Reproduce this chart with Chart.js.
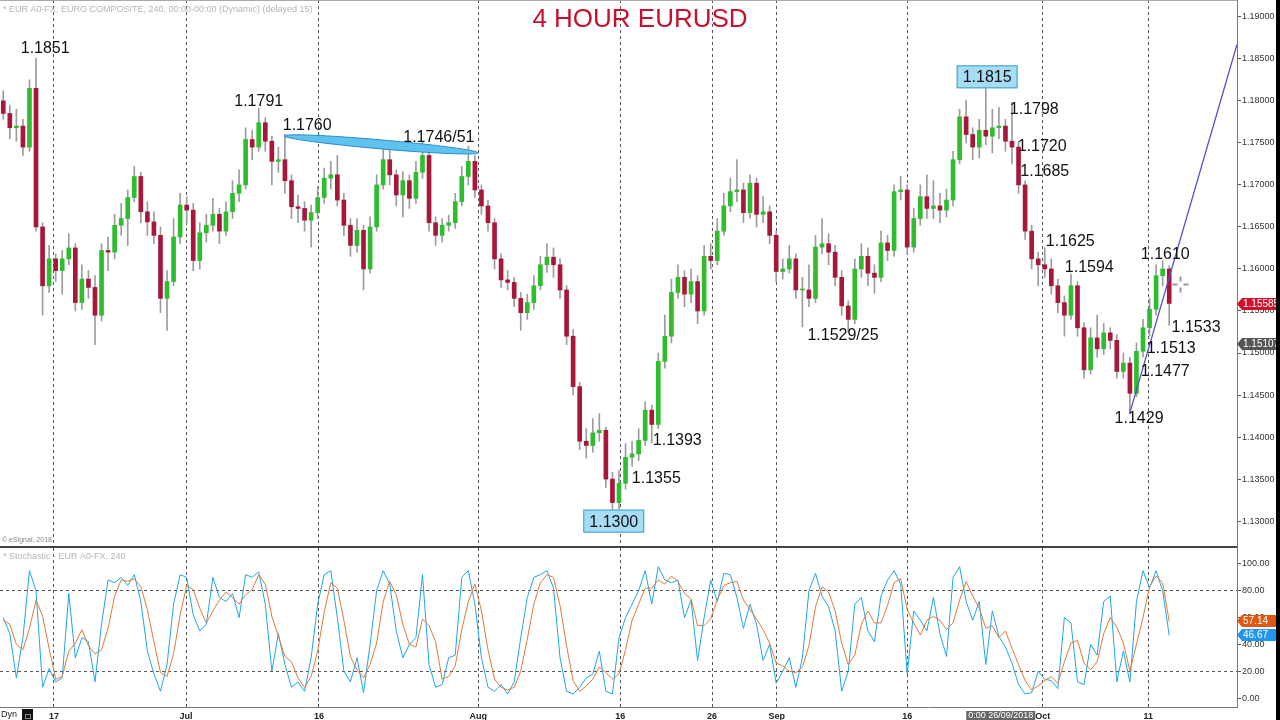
<!DOCTYPE html>
<html>
<head>
<meta charset="utf-8">
<script src="https://cdn.jsdelivr.net/npm/chart.js@4.4.0/dist/chart.umd.min.js"></script>
<style>
  body { margin: 0; background: #fff; width: 1280px; height: 720px; overflow: hidden; position: relative; }
  #priceChart { position: absolute; left: 0; top: 0; }
  #stochChart { position: absolute; left: 0; top: 548px; }
  #edge { position: absolute; right: 0; top: 0; width: 4px; height: 720px; background: #000; }
</style>
</head>
<body>
<canvas id="priceChart" width="1280" height="548"></canvas>
<canvas id="stochChart" width="1280" height="172"></canvas>
<div id="edge"></div>
<script>
// 4h EURUSD, sampled as two candles per trading day (index 0 = 12 Jun)
const opens = [1.1800,1.1785,1.1768,1.1770,1.1745,1.1815,1.1650,1.1580,1.1612,1.1598,
  1.1612,1.1625,1.1560,1.1588,1.1578,1.1545,1.1622,1.1620,1.1652,1.1660,
  1.1685,1.1710,1.1668,1.1656,1.1640,1.1565,1.1585,1.1638,1.1676,1.1670,
  1.1610,1.1643,1.1652,1.1665,1.1645,1.1668,1.1690,1.1700,1.1754,1.1745,
  1.1774,1.1752,1.1728,1.1730,1.1705,1.1674,1.1672,1.1658,1.1667,1.1685,
  1.1708,1.1712,1.1682,1.1652,1.1628,1.1646,1.1600,1.1650,1.1700,1.1730,
  1.1712,1.1688,1.1705,1.1684,1.1715,1.1735,1.1655,1.1640,1.1652,1.1655,
  1.1680,1.1710,1.1728,1.1694,1.1675,1.1655,1.1612,1.1587,1.1584,1.1565,
  1.1548,1.1560,1.1580,1.1605,1.1614,1.1605,1.1575,1.1520,1.1460,1.1395,
  1.1390,1.1405,1.1408,1.1350,1.1322,1.1345,1.1376,1.1380,1.1396,1.1432,
  1.1415,1.1490,1.1520,1.1572,1.1590,1.1570,1.1585,1.1550,1.1615,1.1610,
  1.1645,1.1675,1.1692,1.1694,1.1667,1.1702,1.1665,1.1668,1.1640,1.1597,
  1.1600,1.1612,1.1575,1.1575,1.1565,1.1626,1.1630,1.1620,1.1590,1.1556,
  1.1540,1.1600,1.1615,1.1595,1.1590,1.1631,1.1622,1.1692,1.1694,1.1626,
  1.1660,1.1686,1.1672,1.1675,1.1670,1.1682,1.1730,1.1781,1.1760,1.1745,
  1.1765,1.1758,1.1768,1.1770,1.1752,1.1745,1.1700,1.1645,1.1612,1.1605,
  1.1600,1.1580,1.1560,1.1545,1.1580,1.1530,1.1480,1.1518,1.1505,1.1524,
  1.1515,1.1478,1.1488,1.1452,1.1502,1.1530,1.1552,1.1592,1.1600];

const highs = [1.1812,1.1795,1.1790,1.1778,1.1825,1.1851,1.1655,1.1628,1.1618,1.1622,
  1.1642,1.1630,1.1605,1.1598,1.1592,1.1630,1.1638,1.1665,1.1678,1.1694,
  1.1722,1.1715,1.1680,1.1668,1.1650,1.1598,1.1660,1.1690,1.1686,1.1678,
  1.1655,1.1665,1.1684,1.1672,1.1680,1.1705,1.1718,1.1768,1.1765,1.1791,
  1.1780,1.1758,1.1745,1.1760,1.1712,1.1688,1.1680,1.1676,1.1698,1.1720,
  1.1728,1.1735,1.1690,1.1660,1.1660,1.1652,1.1662,1.1712,1.1750,1.1750,
  1.1718,1.1716,1.1712,1.1728,1.1751,1.1740,1.1662,1.1660,1.1664,1.1690,
  1.1722,1.1746,1.1735,1.1700,1.1682,1.1660,1.1618,1.1598,1.1590,1.1572,
  1.1570,1.1592,1.1615,1.1630,1.1625,1.1612,1.1580,1.1528,1.1465,1.1410,
  1.1422,1.1428,1.1412,1.1358,1.1360,1.1392,1.1395,1.1410,1.1442,1.1438,
  1.1500,1.1545,1.1588,1.1605,1.1598,1.1600,1.1592,1.1628,1.1630,1.1660,
  1.1690,1.1708,1.1730,1.1702,1.1712,1.1708,1.1686,1.1675,1.1645,1.1612,
  1.1628,1.1618,1.1590,1.1605,1.1640,1.1660,1.1642,1.1628,1.1598,1.1562,
  1.1612,1.1630,1.1625,1.1605,1.1645,1.1640,1.1700,1.1710,1.1700,1.1672,
  1.1700,1.1712,1.1705,1.1690,1.1695,1.1740,1.1790,1.1801,1.1768,1.1778,
  1.1815,1.1790,1.1792,1.1778,1.1798,1.1752,1.1705,1.1652,1.1620,1.1625,
  1.1612,1.1588,1.1568,1.1594,1.1585,1.1536,1.1530,1.1545,1.1535,1.1530,
  1.1522,1.1500,1.1495,1.1512,1.1540,1.1565,1.1605,1.1610,1.1604];

const lows = [1.1778,1.1755,1.1752,1.1735,1.1740,1.1645,1.1545,1.1572,1.1585,1.1570,
  1.1605,1.1550,1.1552,1.1565,1.1510,1.1538,1.1598,1.1612,1.1640,1.1628,
  1.1680,1.1655,1.1640,1.1630,1.1548,1.1527,1.1580,1.1630,1.1655,1.1598,
  1.1600,1.1632,1.1645,1.1630,1.1640,1.1660,1.1680,1.1695,1.1730,1.1740,
  1.1740,1.1700,1.1715,1.1690,1.1660,1.1655,1.1645,1.1626,1.1660,1.1678,
  1.1695,1.1675,1.1640,1.1615,1.1620,1.1575,1.1595,1.1645,1.1695,1.1700,
  1.1675,1.1662,1.1672,1.1678,1.1708,1.1645,1.1628,1.1632,1.1645,1.1648,
  1.1675,1.1700,1.1685,1.1665,1.1645,1.1600,1.1578,1.1575,1.1555,1.1527,
  1.1540,1.1552,1.1575,1.1596,1.1590,1.1565,1.1510,1.1450,1.1385,1.1375,
  1.1382,1.1395,1.1340,1.1301,1.1310,1.1338,1.1365,1.1372,1.1390,1.1393,
  1.1410,1.1482,1.1512,1.1565,1.1555,1.1560,1.1535,1.1545,1.1600,1.1605,
  1.1640,1.1668,1.1680,1.1655,1.1660,1.1650,1.1655,1.1630,1.1585,1.1588,
  1.1595,1.1565,1.1531,1.1555,1.1560,1.1618,1.1605,1.1580,1.1545,1.1525,
  1.1535,1.1590,1.1580,1.1571,1.1585,1.1610,1.1615,1.1682,1.1618,1.1620,
  1.1652,1.1660,1.1660,1.1655,1.1662,1.1675,1.1725,1.1750,1.1730,1.1732,
  1.1748,1.1738,1.1755,1.1740,1.1725,1.1690,1.1635,1.1600,1.1580,1.1590,
  1.1570,1.1548,1.1520,1.1540,1.1520,1.1470,1.1475,1.1495,1.1498,1.1505,
  1.1470,1.1470,1.1429,1.1448,1.1495,1.1520,1.1545,1.1580,1.1533];

const closes = [1.1785,1.1768,1.1770,1.1745,1.1815,1.1650,1.1580,1.1612,1.1598,1.1612,
  1.1625,1.1560,1.1588,1.1578,1.1545,1.1622,1.1620,1.1652,1.1660,1.1685,
  1.1710,1.1668,1.1656,1.1640,1.1565,1.1585,1.1638,1.1676,1.1670,1.1610,
  1.1643,1.1652,1.1665,1.1645,1.1668,1.1690,1.1700,1.1754,1.1745,1.1774,
  1.1752,1.1728,1.1730,1.1705,1.1674,1.1672,1.1658,1.1667,1.1685,1.1708,
  1.1712,1.1682,1.1652,1.1628,1.1646,1.1600,1.1650,1.1700,1.1730,1.1712,
  1.1688,1.1705,1.1684,1.1715,1.1735,1.1655,1.1640,1.1652,1.1655,1.1680,
  1.1710,1.1728,1.1694,1.1675,1.1655,1.1612,1.1587,1.1584,1.1565,1.1548,
  1.1560,1.1580,1.1605,1.1614,1.1605,1.1575,1.1520,1.1460,1.1395,1.1390,
  1.1405,1.1408,1.1350,1.1322,1.1345,1.1376,1.1380,1.1396,1.1432,1.1415,
  1.1490,1.1520,1.1572,1.1590,1.1570,1.1585,1.1550,1.1615,1.1610,1.1645,
  1.1675,1.1692,1.1694,1.1667,1.1702,1.1665,1.1668,1.1640,1.1597,1.1600,
  1.1612,1.1575,1.1575,1.1565,1.1626,1.1630,1.1620,1.1590,1.1556,1.1540,
  1.1600,1.1615,1.1595,1.1590,1.1631,1.1622,1.1692,1.1694,1.1626,1.1660,
  1.1686,1.1672,1.1675,1.1670,1.1682,1.1730,1.1781,1.1760,1.1745,1.1765,
  1.1758,1.1768,1.1770,1.1752,1.1745,1.1700,1.1645,1.1612,1.1605,1.1600,
  1.1580,1.1560,1.1545,1.1580,1.1530,1.1480,1.1518,1.1505,1.1524,1.1515,
  1.1478,1.1488,1.1452,1.1502,1.1530,1.1552,1.1592,1.1600,1.1559];

// stochastic %K (blue) and %D (orange)
const stochK = [60,48,15,45,95,80,8,22,12,15,
  78,30,45,42,12,55,88,86,90,84,
  92,72,35,18,5,25,70,92,90,62,
  50,55,90,75,72,78,60,92,90,94,
  70,20,48,25,8,12,5,30,70,92,
  95,60,20,12,30,4,40,80,95,85,
  50,30,40,45,92,25,8,10,30,32,
  90,95,70,30,8,5,10,3,12,45,
  75,90,92,95,82,30,5,3,8,15,
  18,35,5,3,45,60,70,80,95,70,
  98,88,86,88,60,73,28,60,88,72,
  93,92,75,52,70,55,28,40,11,20,
  30,8,30,80,93,76,68,50,5,20,
  70,75,50,42,76,88,95,85,18,65,
  58,50,75,48,31,90,98,72,58,72,
  25,65,46,38,26,10,3,4,20,14,
  13,7,60,56,12,10,40,32,72,76,
  12,35,12,72,95,82,95,80,46.67];

const stochD = [58,55,40,36,52,73,61,37,14,16,
  35,41,51,39,33,36,52,76,88,87,
  89,83,66,42,19,16,33,62,84,81,
  67,56,65,73,79,75,70,77,81,92,
  85,61,46,31,27,15,8,16,35,64,
  86,82,58,31,21,15,25,41,72,87,
  77,55,40,38,59,54,42,14,16,24,
  51,72,85,65,36,14,8,6,8,20,
  44,70,86,92,90,69,39,13,5,9,
  14,23,19,14,18,36,58,70,82,82,
  88,85,91,87,78,74,54,54,59,73,
  84,86,87,73,66,59,51,41,26,24,
  20,19,23,39,68,83,79,65,41,25,
  32,55,65,56,56,69,86,89,66,56,
  47,58,61,58,51,56,73,87,76,67,
  52,54,45,50,37,25,13,6,9,13,
  16,11,27,41,43,26,21,27,48,60,
  53,41,20,40,60,83,91,86,57.14];

// date grid lines (in candle index units) and their labels
const tickPos = [7.74, 27.9, 48.2, 72.5, 94.2, 108.2, 118.1, 138.0, 158.7, 174.8];
const tickLabels = ['17', 'Jul', '16', 'Aug', '16', '26', 'Sep', '16', 'Oct', '11'];
const priceTicks = [1.13, 1.135, 1.14, 1.145, 1.15, 1.155, 1.16, 1.165, 1.17, 1.175, 1.18, 1.185, 1.19];
const stochTicks = [0, 20, 40, 60, 80, 100];
const stochLevels = [20, 80];

// hand-drawn marks: rising trendline and the "1.1760 - 1.1746/51" ellipse
const trendPts = [{ x: 172, y: 1.1429 }, { x: 188.35, y: 1.1867 }];
const channelEnds = [[42.9, 1.17583], [72.5, 1.17381]];

// price notes: text, candle index, price, boxed?
const notes = [
  ['1.1851', 6.4, 1.18631, false],
  ['1.1791', 39.0, 1.18000, false],
  ['1.1760', 46.4, 1.17714, false],
  ['1.1746/51', 66.5, 1.17571, false],
  ['1.1815', 150.2, 1.18286, true],
  ['1.1798', 157.4, 1.17905, false],
  ['1.1720', 158.6, 1.17464, false],
  ['1.1685', 159.0, 1.17167, false],
  ['1.1625', 162.9, 1.16333, false],
  ['1.1594', 165.8, 1.16024, false],
  ['1.1610', 177.4, 1.16179, false],
  ['1.1533', 182.1, 1.15310, false],
  ['1.1513', 178.3, 1.15060, false],
  ['1.1477', 177.4, 1.14786, false],
  ['1.1429', 173.4, 1.14226, false],
  ['1.1529/25', 128.2, 1.15214, false],
  ['1.1393', 102.9, 1.13964, false],
  ['1.1355', 99.7, 1.13512, false],
  ['1.1300', 93.2, 1.13000, true],
];

const lastPrice = 1.15585;
const cursorPrice = 1.15107;
const cursorIdx = 152.2;
const cursorMark = [179.65, 1.15821];

const xMin = -0.5;
const xMax = 188.35;
const FONT = '"Liberation Sans", Arial, sans-serif';
const UP = '#2dbd2d';
const DOWN = '#a8163a';

function xAxis(showLabels) {
  return {
    type: 'linear',
    min: xMin,
    max: xMax,
    offset: false,
    afterBuildTicks: (s) => { s.ticks = tickPos.map((v) => ({ value: v })); },
    afterFit: (s) => { s.height = showLabels ? 13 : 0; s.paddingLeft = 0; s.paddingRight = 0; },
    grid: { color: '#555', lineWidth: 1, drawTicks: false, offset: false },
    border: { display: showLabels, color: '#777', dash: [3, 3] },
    ticks: {
      display: showLabels,
      autoSkip: false,
      maxRotation: 0,
      padding: 4,
      color: '#222',
      font: { family: FONT, size: 9, weight: 'bold' },
      callback: (v, i) => tickLabels[i],
    },
  };
}

function sideTag(ctx, x0, yc, text, bg) {
  const h = 12;
  ctx.fillStyle = bg;
  ctx.beginPath();
  ctx.moveTo(x0, yc);
  ctx.lineTo(x0 + 5, yc - h / 2);
  ctx.lineTo(1280, yc - h / 2);
  ctx.lineTo(1280, yc + h / 2);
  ctx.lineTo(x0 + 5, yc + h / 2);
  ctx.closePath();
  ctx.fill();
  ctx.fillStyle = '#fff';
  ctx.font = '10px ' + FONT;
  ctx.textAlign = 'left';
  ctx.textBaseline = 'middle';
  ctx.fillText(text, x0 + 6, yc + 0.5);
}

const priceDecor = {
  id: 'priceDecor',
  afterDatasetsDraw(chart) {
    const { ctx, scales: { x, y } } = chart;
    ctx.save();
    // ellipse
    const x1 = x.getPixelForValue(channelEnds[0][0]);
    const y1 = y.getPixelForValue(channelEnds[0][1]);
    const x2 = x.getPixelForValue(channelEnds[1][0]);
    const y2 = y.getPixelForValue(channelEnds[1][1]);
    ctx.beginPath();
    ctx.ellipse((x1 + x2) / 2, (y1 + y2) / 2, Math.hypot(x2 - x1, y2 - y1) / 2, 4.5,
      Math.atan2(y2 - y1, x2 - x1), 0, Math.PI * 2);
    ctx.fillStyle = '#5ec3ef';
    ctx.fill();
    ctx.strokeStyle = '#2a8ccc';
    ctx.lineWidth = 1;
    ctx.stroke();

    // notes
    ctx.font = '16px ' + FONT;
    ctx.textAlign = 'center';
    ctx.textBaseline = 'middle';
    notes.forEach(([text, i, p, boxed]) => {
      const cx = x.getPixelForValue(i);
      const cy = y.getPixelForValue(p);
      if (boxed) {
        const w = ctx.measureText(text).width + 12;
        ctx.fillStyle = '#a6dcf4';
        ctx.fillRect(cx - w / 2, cy - 11.5, w, 23);
        ctx.strokeStyle = '#3a9fd6';
        ctx.strokeRect(cx - w / 2 + 0.5, cy - 11, w - 1, 22);
      }
      ctx.fillStyle = '#111';
      ctx.fillText(text, cx, cy + 1);
    });

    // cursor cross
    const mx = Math.round(x.getPixelForValue(cursorMark[0])) + 0.5;
    const my = Math.round(y.getPixelForValue(cursorMark[1])) + 0.5;
    ctx.strokeStyle = '#999';
    ctx.lineWidth = 2;
    ctx.beginPath();
    ctx.moveTo(mx - 8, my); ctx.lineTo(mx - 3, my);
    ctx.moveTo(mx + 3, my); ctx.lineTo(mx + 8, my);
    ctx.moveTo(mx, my - 8); ctx.lineTo(mx, my - 3);
    ctx.moveTo(mx, my + 3); ctx.lineTo(mx, my + 8);
    ctx.stroke();
    ctx.restore();
  },
  afterDraw(chart) {
    const { ctx, chartArea, scales: { y } } = chart;
    ctx.save();
    ctx.fillStyle = '#b5b5b5';
    ctx.font = '9px ' + FONT;
    ctx.textAlign = 'left';
    ctx.textBaseline = 'middle';
    ctx.fillText('* EUR A0-FX, EURO COMPOSITE, 240, 00:00-00:00 (Dynamic) (delayed 15)', 3, 10);
    ctx.fillStyle = '#888';
    ctx.font = '7px ' + FONT;
    ctx.fillText('\u00a9 eSignal, 2018', 2, 540);

    ctx.fillStyle = '#c8102e';
    ctx.font = '26px ' + FONT;
    ctx.textAlign = 'center';
    ctx.fillText('4 HOUR EURUSD', 640, 20);

    ctx.fillStyle = '#444';
    ctx.fillRect(0, 546, chartArea.right, 2);
    ctx.fillStyle = '#aaa';
    ctx.fillRect(0, 0, chartArea.right, 1);

    sideTag(ctx, chartArea.right, Math.round(y.getPixelForValue(lastPrice)), lastPrice.toFixed(5), '#d0112b');
    sideTag(ctx, chartArea.right, Math.round(y.getPixelForValue(cursorPrice)), cursorPrice.toFixed(5), '#555');
    ctx.restore();
  },
};

const stochDecor = {
  id: 'stochDecor',
  afterDraw(chart) {
    const { ctx, chartArea, scales: { x, y } } = chart;
    ctx.save();
    ctx.fillStyle = '#b5b5b5';
    ctx.font = '9px ' + FONT;
    ctx.textAlign = 'left';
    ctx.textBaseline = 'middle';
    ctx.fillText('* Stochastic - EUR A0-FX, 240', 3, 9);

    sideTag(ctx, chartArea.right, Math.round(y.getPixelForValue(stochD[stochD.length - 1])), stochD[stochD.length - 1].toFixed(2), '#e2570f');
    sideTag(ctx, chartArea.right, Math.round(y.getPixelForValue(stochK[stochK.length - 1])), stochK[stochK.length - 1].toFixed(2), '#1e96f0');

    // bottom-left status
    ctx.fillStyle = '#222';
    ctx.font = '9px ' + FONT;
    ctx.fillText('Dyn', 1, 167);
    ctx.fillStyle = '#111';
    ctx.fillRect(22, 161, 11, 11);
    ctx.strokeStyle = '#888';
    ctx.lineWidth = 1;
    ctx.strokeRect(25.5, 166.5, 5, 4);

    // cursor date tag
    const cx = x.getPixelForValue(cursorIdx);
    ctx.fillStyle = '#666';
    ctx.fillRect(cx - 34, 163, 69, 9);
    ctx.fillStyle = '#fff';
    ctx.font = '9px ' + FONT;
    ctx.textAlign = 'center';
    ctx.fillText('0:00 26/09/2018', cx + 0.5, 168);
    ctx.restore();
  },
};

const tickFont = { family: FONT, size: 9 };

new Chart(document.getElementById('priceChart'), {
  type: 'bar',
  data: {
    datasets: [
      {
        type: 'line',
        data: trendPts,
        borderColor: '#5050cc',
        borderWidth: 1.3,
        pointRadius: 0,
        order: 0,
      },
      {
        data: opens.map((o, i) => ({ x: i, y: [o, closes[i]] })),
        backgroundColor: opens.map((o, i) => (closes[i] >= o ? UP : DOWN)),
        barThickness: 4,
        minBarLength: 1,
        grouped: false,
        order: 1,
      },
      {
        data: lows.map((l, i) => ({ x: i, y: [l, highs[i]] })),
        backgroundColor: '#9c9c9c',
        barThickness: 1,
        grouped: false,
        order: 2,
      },
    ],
  },
  options: {
    responsive: false,
    animation: false,
    devicePixelRatio: 1,
    layout: { padding: 0 },
    plugins: { legend: { display: false }, tooltip: { enabled: false } },
    scales: {
      x: xAxis(false),
      y: {
        position: 'right',
        min: 1.1268,
        max: 1.1920,
        afterBuildTicks: (s) => { s.ticks = priceTicks.map((v) => ({ value: v })); },
        afterFit: (s) => { s.width = 43; s.paddingTop = 0; s.paddingBottom = 0; },
        grid: { drawOnChartArea: false, drawTicks: true, tickLength: 4, tickColor: '#555' },
        border: { color: '#777' },
        ticks: { padding: 1, color: '#333', font: tickFont, callback: (v) => Number(v).toFixed(5) },
      },
    },
  },
  plugins: [priceDecor],
});

new Chart(document.getElementById('stochChart'), {
  type: 'line',
  data: {
    datasets: [
      {
        data: stochD.map((v, i) => ({ x: i, y: v })),
        borderColor: '#e07a3a',
        borderWidth: 1,
        pointRadius: 0,
        order: 0,
      },
      {
        data: stochK.map((v, i) => ({ x: i, y: v })),
        borderColor: '#1ea6e6',
        borderWidth: 1,
        pointRadius: 0,
        order: 1,
      },
    ],
  },
  options: {
    responsive: false,
    animation: false,
    devicePixelRatio: 1,
    layout: { padding: 0 },
    plugins: { legend: { display: false }, tooltip: { enabled: false } },
    scales: {
      x: xAxis(true),
      y: {
        position: 'right',
        min: -6.7,
        max: 111.9,
        afterBuildTicks: (s) => { s.ticks = stochTicks.map((v) => ({ value: v })); },
        afterFit: (s) => { s.width = 43; s.paddingTop = 0; s.paddingBottom = 0; },
        grid: {
          color: (c) => (c.tick && stochLevels.includes(c.tick.value) ? '#555' : 'rgba(0,0,0,0)'),
          tickColor: '#555',
          tickLength: 4,
        },
        border: { color: '#777', dash: [3, 3] },
        ticks: { padding: 1, color: '#333', font: tickFont, callback: (v) => Number(v).toFixed(2) },
      },
    },
  },
  plugins: [stochDecor],
});
</script>
</body>
</html>
